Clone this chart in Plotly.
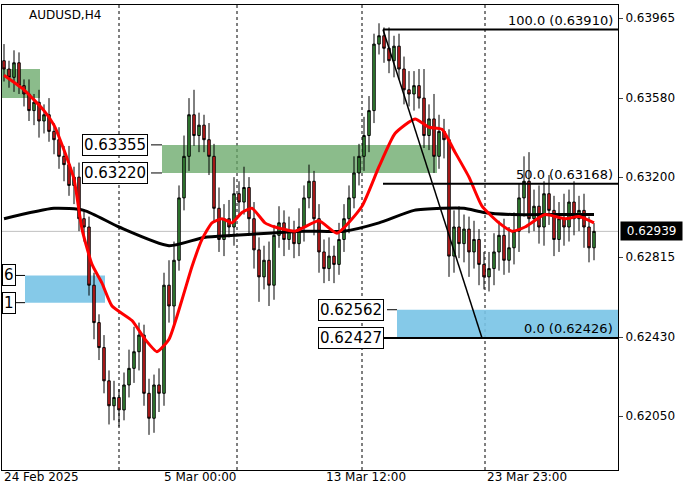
import plotly.graph_objects as go

first_open = 0.6376
closes = [0.6372,0.6368,0.6375,0.6364,0.6360,0.6352,0.6356,0.6347,0.6350,0.6342,
0.6338,0.6330,0.6326,0.6316,0.6320,0.6300,0.6296,0.6268,0.6250,0.6238,
0.6222,0.6210,0.6214,0.6208,0.6220,0.6228,0.6236,0.6244,0.6216,0.6204,
0.6220,0.6216,0.6268,0.6258,0.6280,0.6310,0.6330,0.6350,0.6340,0.6345,
0.6338,0.6330,0.6305,0.6290,0.6300,0.6296,0.6312,0.6308,0.6315,0.6300,
0.6285,0.6272,0.6280,0.6268,0.6292,0.6298,0.6290,0.6294,0.6288,0.6296,
0.6310,0.6318,0.6300,0.6284,0.6276,0.6282,0.6278,0.6290,0.6300,0.6310,
0.6322,0.6330,0.6340,0.6352,0.6384,0.6388,0.6382,0.6376,0.6383,0.6372,
0.6362,0.6360,0.6364,0.6358,0.6340,0.6348,0.6330,0.6342,0.6338,0.6282,
0.6296,0.6288,0.6295,0.6284,0.6290,0.6278,0.6272,0.6276,0.6284,0.6292,
0.6280,0.6286,0.6294,0.6310,0.6318,0.6300,0.6306,0.6296,0.6312,0.6304,
0.6290,0.6300,0.6296,0.6308,0.6300,0.6304,0.6296,0.6286,0.62939]
# wick sizes in pips (0.0001)
up_wick = [8,4,6,5,3,7,4,6,5,8, 4,6,5,9,5,7,4,5,6,4, 6,5,8,4,6,9,12,6,5,7,
 5,8,6,12,9,6,10,8,12,6, 5,8,6,10,7,9,8,6,10,5, 8,6,7,9,5,8,6,7,5,9,
 6,8,5,7,6,9,5,8,7,6, 8,6,9,7,5,6,4,10,5,6, 6,9,7,8,14,7,12,8,6,5,
 8,10,7,6,9,5,6,8,9,7, 8,10,9,7,12,14,8,10,6,9, 7,8,12,6,10,7,8,5,4]
dn_wick = [6,5,7,4,6,5,7,8,6,5, 7,6,8,5,9,6,7,5,8,6, 6,9,7,8,5,6,7,9,6,8,
 7,9,6,8,10,5,6,7,5,8, 6,9,7,6,8,5,9,7,6,8, 9,12,6,10,7,6,8,5,7,6,
 7,5,8,10,7,6,9,5,6,7, 5,6,7,8,6,5,7,6,8,5, 7,6,8,5,6,7,8,6,9,10,
 8,7,9,12,8,10,6,7,8,9, 7,6,8,10,9,7,6,8,9,7, 8,6,9,7,8,6,10,7,6]

red_x = [0,4,8,10,12,14,15.6,17.6,19.6,21.6,25.6,28.2,30.6,33,35.6,37.6,39.6,41.6,43.6,45.6,47.6,49.6,52.2,54.2,58.2,63,66.6,71.6,75,78.2,82.2,85,87.6,90.2,93,95.6,99,101.6,104.2,108.2,112.2,115,118]
red_v = [0.6369,0.6362,0.6352,0.6345,0.6333,0.6319,0.6295,0.6278,0.6269,0.6258,0.6251,0.6242,0.6236,0.6242,0.6261,0.6277,0.6290,0.6298,0.6300,0.6298,0.6303,0.6305,0.6298,0.6296,0.6294,0.6299,0.6293,0.6306,0.6325,0.6341,0.6348,0.6344,0.6343,0.6332,0.6320,0.6306,0.6298,0.6294,0.6296,0.6302,0.6300,0.6301,0.6298]
blk_x = [0,10,16,23,33,40,46,60,68,75,82,87.6,92,96,101.6,110,118]
blk_v = [0.6300,0.6305,0.6304,0.6296,0.6287,0.6291,0.6292,0.6294,0.6294,0.6298,0.6304,0.6305,0.6305,0.6303,0.6302,0.6302,0.6302]

opens = [first_open] + closes[:-1]
highs = [max(o, c) + u * 0.0001 for o, c, u in zip(opens, closes, up_wick)]
lows = [min(o, c) - d * 0.0001 for o, c, d in zip(opens, closes, dn_wick)]
idx = list(range(len(closes)))

y_ticks = [0.63965, 0.63580, 0.63200, 0.62815, 0.62430, 0.62050]
time_labels = ["24 Feb 2025", "5 Mar 00:00", "13 Mar 12:00", "23 Mar 23:00"]
time_pos = [-0.4, 31.6, 64, 96.2]
vlines = [23, 46.6, 71.6, 96.2]
last_price = 0.62939
XR = [-0.4, 122.8]

FONT = "Tahoma, DejaVu Sans"
fig = go.Figure()
GREEN = "rgba(100,165,100,0.75)"
BLUE = "rgba(120,195,230,0.9)"
fig.add_shape(type="rect", x0=-0.4, x1=7.2, y0=0.6358, y1=0.6372, fillcolor=GREEN, line_width=0, layer="below")
fig.add_shape(type="rect", x0=31.6, x1=86.6, y0=0.63220, y1=0.63355, fillcolor=GREEN, line_width=0, layer="below")
fig.add_shape(type="rect", x0=4.2, x1=20.2, y0=0.62596, y1=0.62727, fillcolor=BLUE, line_width=0, layer="below")
fig.add_shape(type="rect", x0=78.6, x1=XR[1], y0=0.62427, y1=0.62562, fillcolor=BLUE, line_width=0, layer="below")
for v in vlines:
    fig.add_shape(type="line", x0=v, x1=v, y0=0, y1=1, yref="paper", line=dict(color="black", width=1, dash="3px,3px"), layer="below")
fig.add_shape(type="line", x0=XR[0], x1=XR[1], y0=last_price, y1=last_price, line=dict(color="#c0c0c0", width=1), layer="below")

fig.add_trace(go.Candlestick(x=idx, open=opens, high=highs, low=lows, close=closes,
    increasing=dict(line=dict(color="black", width=1), fillcolor="#3c9a3c"),
    decreasing=dict(line=dict(color="black", width=1), fillcolor="#e02020"),
    whiskerwidth=0, showlegend=False, hoverinfo="skip"))
fig.add_trace(go.Scatter(x=blk_x, y=blk_v, mode="lines", line=dict(color="black", width=3, shape="spline", smoothing=0.6), showlegend=False))
fig.add_trace(go.Scatter(x=red_x, y=red_v, mode="lines", line=dict(color="#ff0000", width=3, shape="spline", smoothing=0.5), showlegend=False))

fib_lv = [0.63910, 0.63168, 0.62426]
fib_txt = ["100.0 (0.63910)", "50.0 (0.63168)", "0.0 (0.62426)"]
for lv, t in zip(fib_lv, fib_txt):
    fig.add_shape(type="line", x0=75.8, x1=XR[1], y0=lv, y1=lv, line=dict(color="black", width=2))
    fig.add_annotation(x=XR[1], y=lv, text=t, showarrow=False, xanchor="right", yanchor="bottom", font=dict(size=13, color="black", family=FONT), xshift=-3)
fig.add_shape(type="line", x0=75.8, x1=95.6, y0=0.63910, y1=0.62426, line=dict(color="black", width=1.5))

def box(x, y, t):
    fig.add_annotation(x=x, y=y, text=t, showarrow=False, xanchor="left", font=dict(size=15, color="black", family=FONT),
                       bordercolor="black", borderwidth=1, bgcolor="white", borderpad=1)

for p, t in [(0.63355, "0.63355"), (0.63220, "0.63220")]:
    box(15.6, p, t)
    fig.add_shape(type="line", x0=29.4, x1=31.6, y0=p, y1=p, line=dict(color="black", width=1))
for p, t in [(0.62562, "0.62562"), (0.62427, "0.62427")]:
    box(62.8, p, t)
    fig.add_shape(type="line", x0=76.6, x1=78.6, y0=p, y1=p, line=dict(color="black", width=1))
for p, t in [(0.62727, "6"), (0.62596, "1")]:
    box(-0.4, p, t)
    fig.add_shape(type="line", x0=2.0, x1=4.2, y0=p, y1=p, line=dict(color="black", width=1))

fig.add_annotation(x=XR[1], y=last_price, text=" 0.62939 ", showarrow=False, xanchor="left", xshift=2,
                   font=dict(size=12, color="white", family=FONT), bgcolor="black", borderpad=2)
fig.add_annotation(x=4.5, y=0.6398, text="AUDUSD,H4", showarrow=False, xanchor="left", font=dict(size=12, color="black", family=FONT))
for p, t in zip(time_pos, time_labels):
    fig.add_annotation(x=p, y=0, yref="paper", yshift=-16, text=t, showarrow=False, xanchor="left",
                       font=dict(size=12, color="black", family=FONT))

fig.update_layout(width=700, height=500, margin=dict(l=2, r=82, t=5, b=30, autoexpand=False),
    paper_bgcolor="white", plot_bgcolor="white",
    xaxis=dict(range=XR, showgrid=False, showticklabels=False, rangeslider=dict(visible=False), zeroline=False,
               showline=True, linecolor="black", mirror=True, automargin=False),
    yaxis=dict(range=[0.61791, 0.64028], side="right", tickvals=y_ticks, ticktext=[f"{v:.5f}" for v in y_ticks],
               showgrid=False, zeroline=False, showline=True, linecolor="black", mirror=True, ticks="outside", ticklen=4,
               automargin=False, tickfont=dict(size=12, color="black", family=FONT)))
fig.write_html("out.html", config={"displayModeBar": False}, post_script="document.body.style.margin='0';")
